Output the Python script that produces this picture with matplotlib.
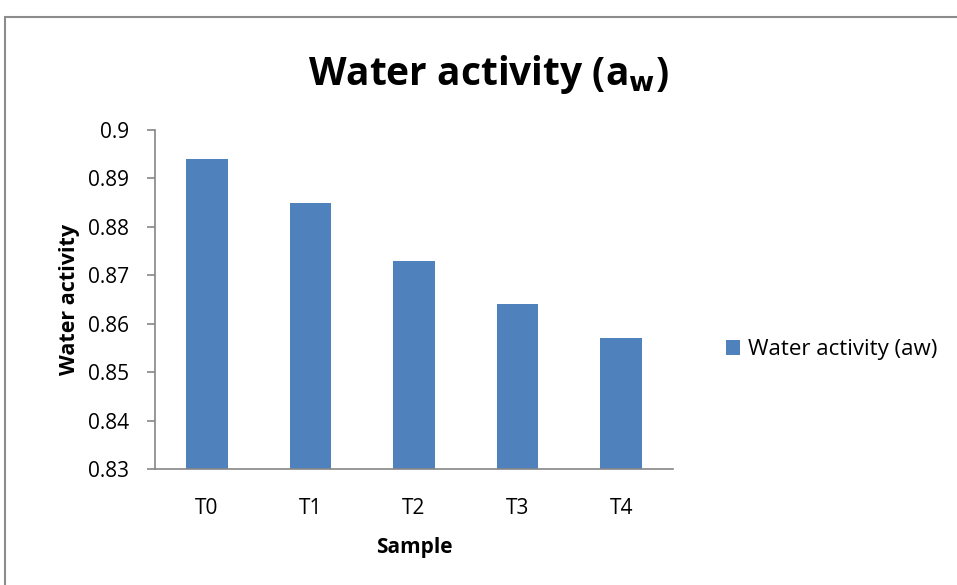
import matplotlib
matplotlib.use("Agg")
import matplotlib.pyplot as plt
from matplotlib.patches import Rectangle

samples = ["T0", "T1", "T2", "T3", "T4"]
water_activity = [0.894, 0.885, 0.873, 0.864, 0.857]
y_ticks = [0.83, 0.84, 0.85, 0.86, 0.87, 0.88, 0.89, 0.90]
y_tick_labels = ["0.83", "0.84", "0.85", "0.86", "0.87", "0.88", "0.89", "0.9"]

plt.rcParams["font.family"] = ["Open Sans", "DejaVu Sans"]
bar_color = "#4F81BD"
axis_color = "#868686"

fig = plt.figure(figsize=(9.57, 5.85), dpi=100)
fig.patches.append(Rectangle((5 / 957, -0.1), 1.2, 1 - 17 / 585 + 0.1,
                             transform=fig.transFigure, fill=False,
                             edgecolor="#8c8c8c", linewidth=1.5))

ax = fig.add_axes([155 / 957, 1 - 469 / 585, 518 / 957, 339 / 585])
x = range(len(samples))
bars = ax.bar(x, water_activity, width=0.4, color=bar_color,
              label="Water activity (aw)")

ax.set_xlim(-0.5, len(samples) - 0.5)
ax.set_ylim(0.83, 0.90)
ax.set_yticks(y_ticks)
ax.set_yticklabels(y_tick_labels)
ax.set_xticks(list(x))
ax.set_xticklabels(samples)

for side in ("top", "right"):
    ax.spines[side].set_visible(False)
for side in ("left", "bottom"):
    ax.spines[side].set_color(axis_color)
    ax.spines[side].set_linewidth(1.2)
ax.tick_params(axis="y", length=5.5, width=1.2, color=axis_color,
               labelsize=15, pad=13)
ax.tick_params(axis="x", length=0, labelsize=15, pad=21)

ax.set_ylabel("Water activity", fontsize=15.5, fontweight="bold", labelpad=6)
ax.set_xlabel("Sample", fontsize=15, fontweight="bold", labelpad=13)

fig.text(488 / 957, 1 - 75 / 585, r"Water activity (a$_\mathbf{w}$)",
         ha="center", va="center", fontsize=28, fontweight="bold")

fig.legend(handles=[bars], labels=["Water activity (aw)"],
           loc="center left", bbox_to_anchor=(706 / 957, 1 - 350 / 585),
           frameon=False, fontsize=16, handlelength=0.65, handleheight=0.65,
           handletextpad=0.35)

fig.savefig("out.png", dpi=100)
